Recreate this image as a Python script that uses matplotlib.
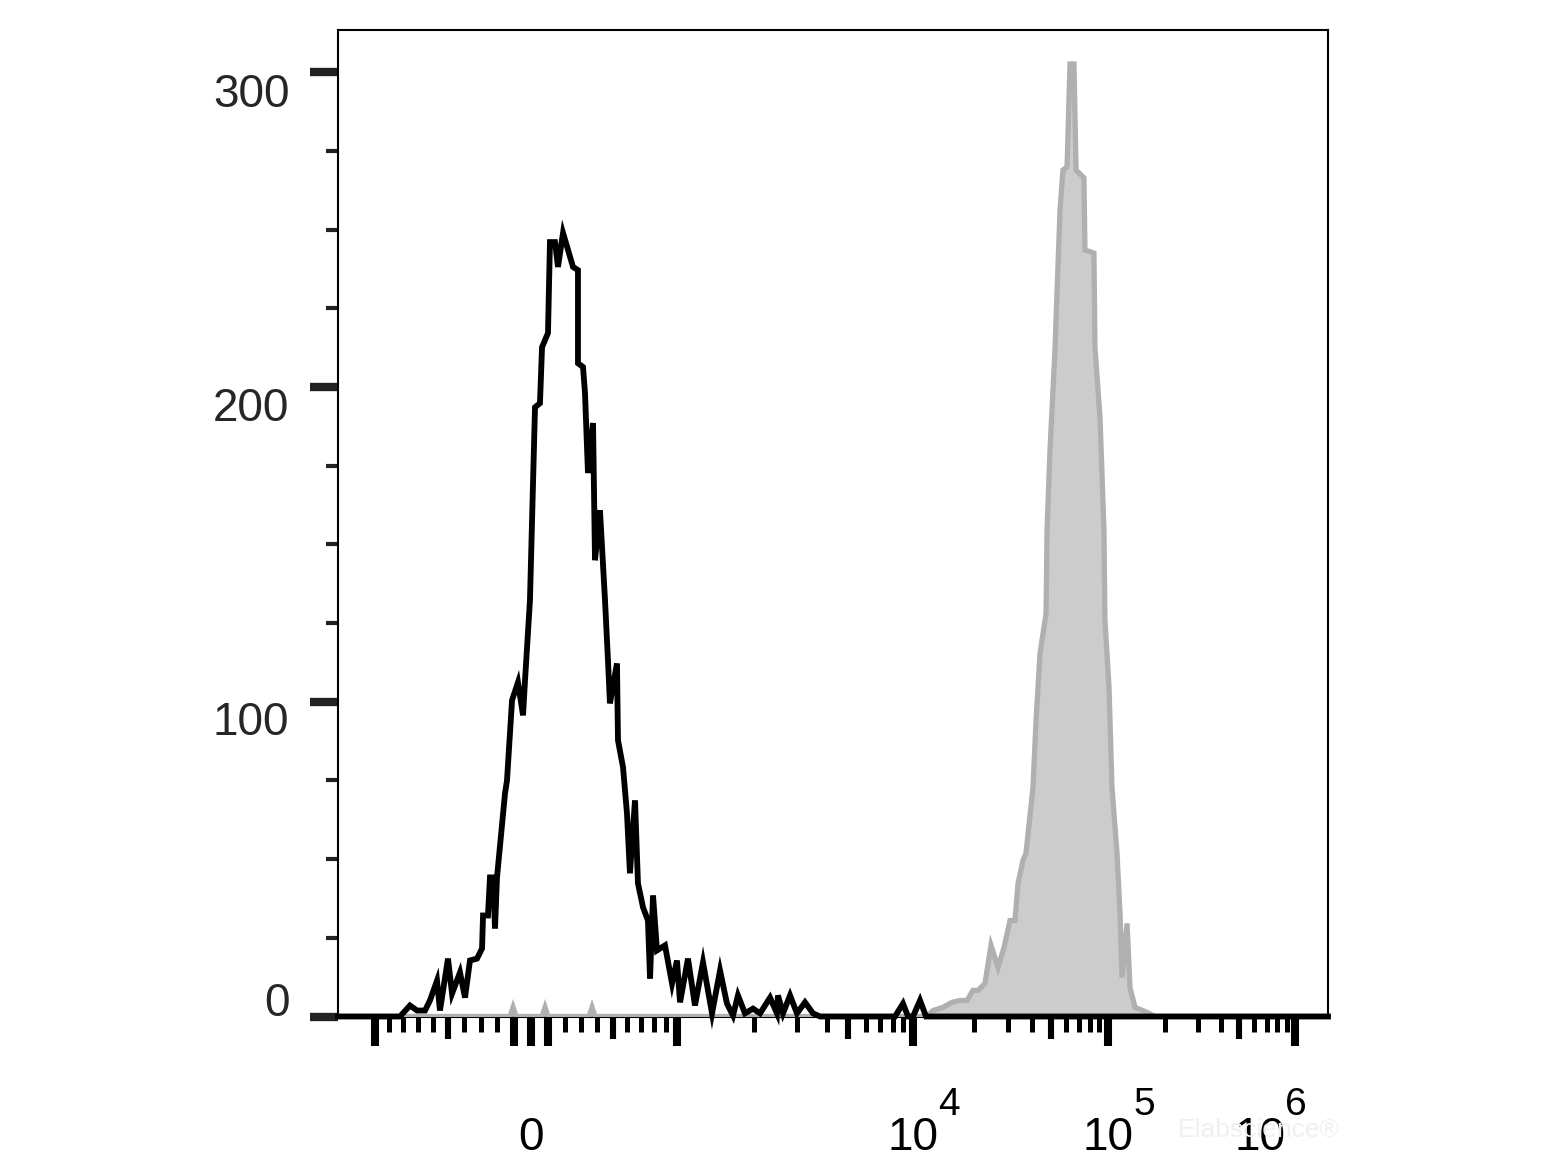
import numpy as np
import matplotlib
matplotlib.use("Agg")
import matplotlib.pyplot as plt
from matplotlib import transforms

plt.rcParams['font.family'] = ['Liberation Sans', 'DejaVu Sans']

# histogram data: x in display channels (0..1000, logicle scale), y in counts
black_ch = [0, 62.6, 72.7, 79.8, 87.9, 92.9, 100.0, 103.0, 111.1, 115.2, 123.2, 128.3, 133.3, 140.4,
            145.5, 146.5, 151.5, 153.5, 156.6, 158.6, 160.6, 168.7, 170.7, 175.8, 181.8, 186.9, 188.9,
            193.9, 199.0, 204.0, 206.1, 212.1, 214.1, 219.2, 222.2, 227.3, 237.4, 242.4, 242.4, 247.5,
            249.5, 252.5, 257.6, 259.6, 264.6, 269.7, 272.7, 274.7, 281.8, 282.8, 287.9, 291.9, 294.9,
            300.0, 303.0, 308.1, 313.1, 315.2, 318.2, 322.2, 330.3, 337.4, 342.4, 345.5, 353.5, 360.6,
            368.7, 377.8, 385.9, 392.9, 399.0, 404.0, 411.1, 419.2, 426.3, 436.4, 443.4, 444.4, 449.5,
            456.6, 463.6, 471.7, 479.8, 486.9, 562.6, 570.7, 575.8, 580.8, 587.9, 594.0, 1000]
black_ct = [0, 0, 3.5, 1.9, 1.9, 5.1, 11.4, 1.9, 18.4, 7.3, 14.0, 6.0, 17.8, 18.4,
            21.6, 32.1, 32.1, 44.2, 44.2, 28.0, 44.2, 70.9, 75.0, 100.5, 106.2, 95.7, 106.8,
            132.3, 193.6, 194.9, 212.7, 217.2, 246.1, 246.1, 238.2, 249.0, 238.2, 237.2, 207.6, 206.4,
            198.1, 172.7, 188.6, 145.0, 160.9, 132.3, 113.2, 99.5, 112.2, 87.8, 79.2, 64.5, 45.5,
            68.7, 42.3, 34.7, 30.5, 12.1, 38.5, 21.0, 22.6, 10.5, 17.8, 4.5, 18.4, 3.5,
            17.2, 1.0, 14.6, 4.1, 0.3, 6.7, 1.0, 2.5, 1.0, 6.0, 1.0, 6.7, 1.0,
            6.7, 1.0, 4.5, 1.0, 0, 0, 4.1, 0, 0, 5.1, 0, 0]

gray_ch = [0, 58.0, 173.8, 176.8, 179.8, 206.1, 209.1, 212.1, 253.6, 256.6, 259.6, 595.0, 601.0,
           611.1, 620.2, 628.3, 635.4, 641.4, 646.5, 653.5, 659.6, 666.7, 672.7, 678.8, 683.8, 686.9,
           691.9, 694.9, 702.0, 705.1, 709.1, 715.2, 716.2, 719.2, 724.2, 729.3, 732.3, 736.4, 739.4,
           743.4, 745.5, 753.5, 754.5, 763.6, 764.6, 769.7, 773.7, 774.7, 778.8, 781.8, 786.9, 789.9,
           791.9, 797.0, 800.0, 805.1, 817.2, 825.3, 1000]
gray_ct = [0, 0, 0, 2.9, 0, 0, 2.9, 0, 0, 2.9, 0, 0, 1.9,
           2.9, 4.5, 5.1, 5.1, 8.3, 8.3, 10.5, 22.6, 15.6, 21.9, 30.5, 30.5, 42.3,
           49.6, 51.8, 72.8, 94.1, 115.4, 128.1, 154.5, 180.0, 211.8, 256.3, 269.0, 270.0, 302.7,
           302.7, 269.0, 266.5, 243.6, 242.6, 212.7, 190.5, 154.5, 125.9, 104.6, 72.8, 51.8, 32.8,
           12.4, 29.6, 9.2, 2.9, 1.3, 0, 0]

y_major = [0, 100, 200, 300]
y_minor = [25, 50, 75, 125, 150, 175, 225, 250, 275]
y_label_shift = [18, -16, -17, -18]   # px up (+) / down (-) from the tick

x_major_vals = [-1000, -100, 0, 100, 1000, 1e4, 1e5, 1e6]
x_mid_vals = [-500, 500, 5000, 5e4, 5e5]
x_minor_vals = ([-900, -800, -700, -600, -400, -300, -200, 200, 300, 400, 600, 700, 800, 900]
                + [2e3, 3e3, 4e3, 6e3, 7e3, 8e3, 9e3]
                + [2e4, 3e4, 4e4, 6e4, 7e4, 8e4, 9e4]
                + [2e5, 3e5, 4e5, 6e5, 7e5, 8e5, 9e5])
decade_labels = [(1e4, '4', 0), (1e5, '5', 0), (1e6, '6', -35)]

# logicle-like display transform (channel -> value)
ZERO_CH = 195.0
DEC_S = 81.8
P = 5.0
A = 79.4


def logicle_value(ch):
    y = (ch - ZERO_CH) / DEC_S
    return A * (np.exp(y) - P**2 * np.exp(-y / P) + P**2 - 1)


grid = np.linspace(0, 1000, 20001)
grid_vals = logicle_value(grid)


def to_channel(v):
    return np.interp(v, grid_vals, grid)


fig = plt.figure(figsize=(15.6, 11.7), dpi=100)
ax = fig.add_axes([338/1560, 1 - 1016.5/1170, 990/1560, 986.5/1170])
ax.set_xlim(0, 1000)
ax.set_ylim(0, 313.5)

ax.fill_between(gray_ch, gray_ct, 0, color='#cccccc', lw=0, zorder=2)
ax.plot(gray_ch, gray_ct, color='#b0b0b0', lw=3.8, solid_joinstyle='miter', zorder=3)
ax.plot(black_ch, black_ct, color='black', lw=4.2, solid_joinstyle='miter', zorder=4,
        clip_on=False)

for s in ax.spines.values():
    s.set_linewidth(1.5)

# y axis
ax.set_yticks(y_major)
ax.set_yticks(y_minor, minor=True)
ax.set_yticklabels([str(v) for v in y_major])
ax.tick_params(axis='y', which='major', length=20, width=6, color='#222222',
               labelsize=33, labelcolor='#262626', pad=15)
ax.tick_params(axis='y', which='minor', length=8.6, width=3, color='#222222')
for lab, dy in zip(ax.get_yticklabels(), y_label_shift):
    lab.set_transform(lab.get_transform() +
                      transforms.ScaledTranslation(0, dy/100, fig.dpi_scale_trans))

# x axis ticks
ax.set_xticks(to_channel(x_major_vals))
ax.set_xticks(to_channel(x_minor_vals), minor=True)
ax.tick_params(axis='x', which='major', length=21, width=5.8, labelbottom=False)
ax.tick_params(axis='x', which='minor', length=10.5, width=3.6)
sec = ax.secondary_xaxis('bottom')
sec.set_xticks(to_channel(x_mid_vals))
sec.tick_params(length=16, width=4.4, labelbottom=False)
sec.spines['bottom'].set_visible(False)

# x labels
bt = transforms.blended_transform_factory(ax.transData, fig.transFigure)
ax.text(to_channel(0), 1 - 1150/1170, '0', transform=bt, ha='center', va='baseline',
        fontsize=33)
for val, ex, dx in decade_labels:
    x0 = to_channel(val)
    t10 = bt + transforms.ScaledTranslation(dx/100, 0, fig.dpi_scale_trans)
    ax.text(x0, 1 - 1150/1170, '10', transform=t10, ha='center', va='baseline', fontsize=33)
    tex = bt + transforms.ScaledTranslation((dx + 25)/100, 0, fig.dpi_scale_trans)
    ax.text(x0, 1 - 1115/1170, ex, transform=tex, ha='left', va='baseline', fontsize=28)

# faint watermark
fig.text(1178/1560, 1 - 1137/1170, 'Elabscience\u00ae', color='#f0f0f0', fontsize=19,
         ha='left', va='baseline', zorder=0)

fig.savefig('out.png', dpi=100)
